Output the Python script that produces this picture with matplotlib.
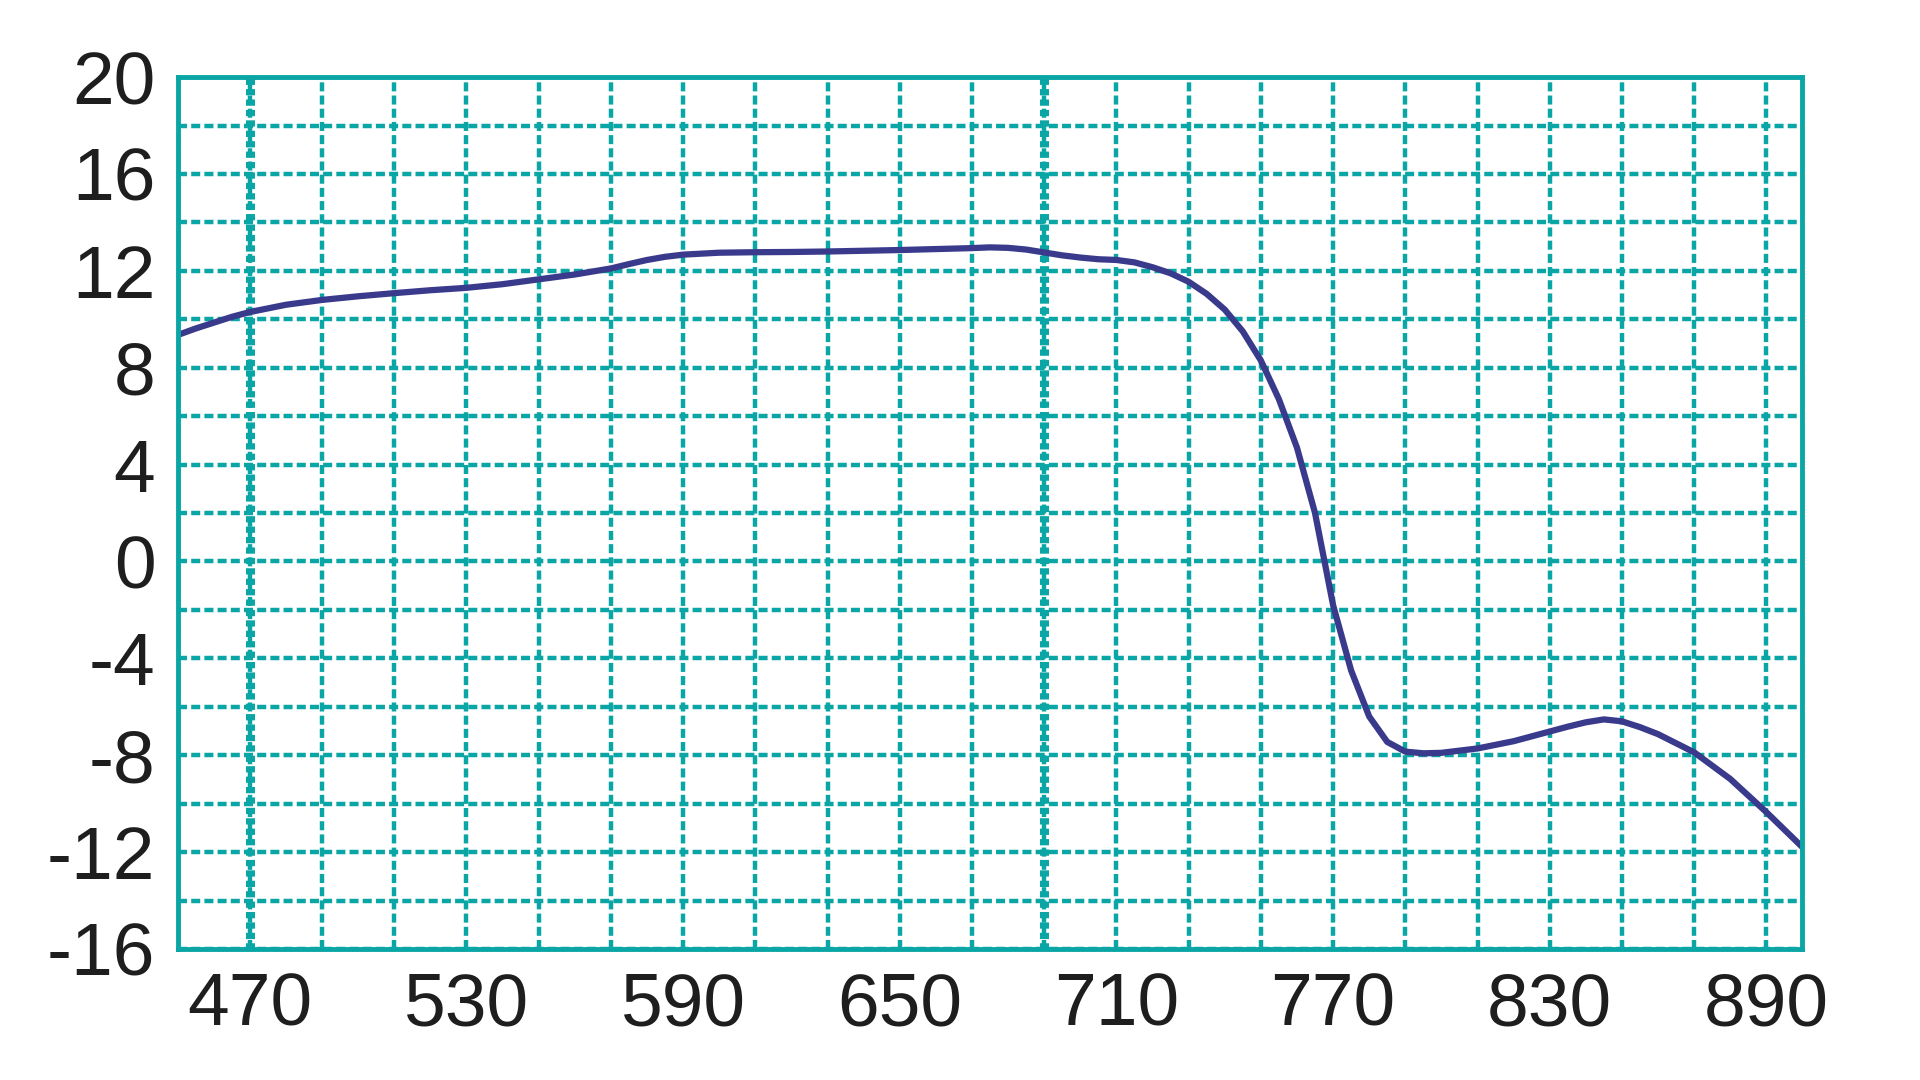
import matplotlib
matplotlib.use("Agg")
import matplotlib.pyplot as plt
from matplotlib.ticker import MultipleLocator

plt.rcParams['font.family'] = ['Liberation Sans', 'DejaVu Sans']
plt.rcParams['lines.scale_dashes'] = False

# wavelength and signal
wavelength = [450, 455, 460, 465, 470, 480, 490, 500, 510, 520, 530, 540, 550, 560,
              570, 575, 580, 585, 590, 600, 610, 620, 630, 640, 650, 660, 670, 675,
              680, 685, 690, 695, 700, 705, 710, 715, 720, 725, 730, 735, 740, 745,
              750, 755, 760, 765, 770, 775, 780, 785, 790, 795, 800, 810, 820, 830,
              835, 840, 845, 850, 855, 860, 870, 880, 890, 900]
signal = [9.35, 9.62, 9.86, 10.1, 10.3, 10.6, 10.8, 10.95, 11.08, 11.2, 11.3, 11.45,
          11.65, 11.85, 12.1, 12.28, 12.45, 12.58, 12.67, 12.75, 12.77, 12.78, 12.8,
          12.83, 12.86, 12.9, 12.94, 12.97, 12.95, 12.88, 12.76, 12.64, 12.55, 12.48,
          12.45, 12.35, 12.15, 11.9, 11.55, 11.05, 10.4, 9.5, 8.3, 6.7, 4.7, 2.0, -1.8,
          -4.5, -6.4, -7.45, -7.85, -7.92, -7.9, -7.72, -7.42, -7.02, -6.82, -6.64,
          -6.52, -6.6, -6.84, -7.13, -7.88, -8.98, -10.35, -11.8]

x_labels = [470, 530, 590, 650, 710, 770, 830, 890]
y_labels = [-16, -12, -8, -4, 0, 4, 8, 12, 16, 20]
thick_lines = [470, 690]

teal = '#0aa5a5'
fig = plt.figure(figsize=(19.2, 10.8), dpi=100)
ax = fig.add_axes([0.0925, 0.1213, 0.8463, 0.8073])

ax.set_xlim(450, 900)
ax.set_ylim(-16, 20)
ax.set_xticks(x_labels)
ax.set_xticklabels([str(v) for v in x_labels])
ax.set_yticks(y_labels)
ax.set_yticklabels([str(v) for v in y_labels])
ax.xaxis.set_minor_locator(MultipleLocator(20, offset=10))
ax.yaxis.set_minor_locator(MultipleLocator(2))

ax.grid(True, which='both', color=teal, linewidth=3.2, linestyle=(0, (6.5, 3.0)))
for xv in thick_lines:
    ax.axvline(xv, color=teal, linewidth=6.5, linestyle=(0, (4.5, 3.0)), zorder=1)

ax.plot(wavelength, signal, color='#3a3a8c', linewidth=4.5, zorder=3,
        solid_joinstyle='round', solid_capstyle='round')

for s in ax.spines.values():
    s.set_color(teal)
    s.set_linewidth(3.5)
    s.set_zorder(4)

ax.tick_params(which='both', length=0, labelsize=54, labelcolor='#1e1e1e')
ax.tick_params(axis='x', pad=16)
ax.tick_params(axis='y', pad=16)
ax.set_axisbelow(True)

fig.savefig('out.png', dpi=100)
